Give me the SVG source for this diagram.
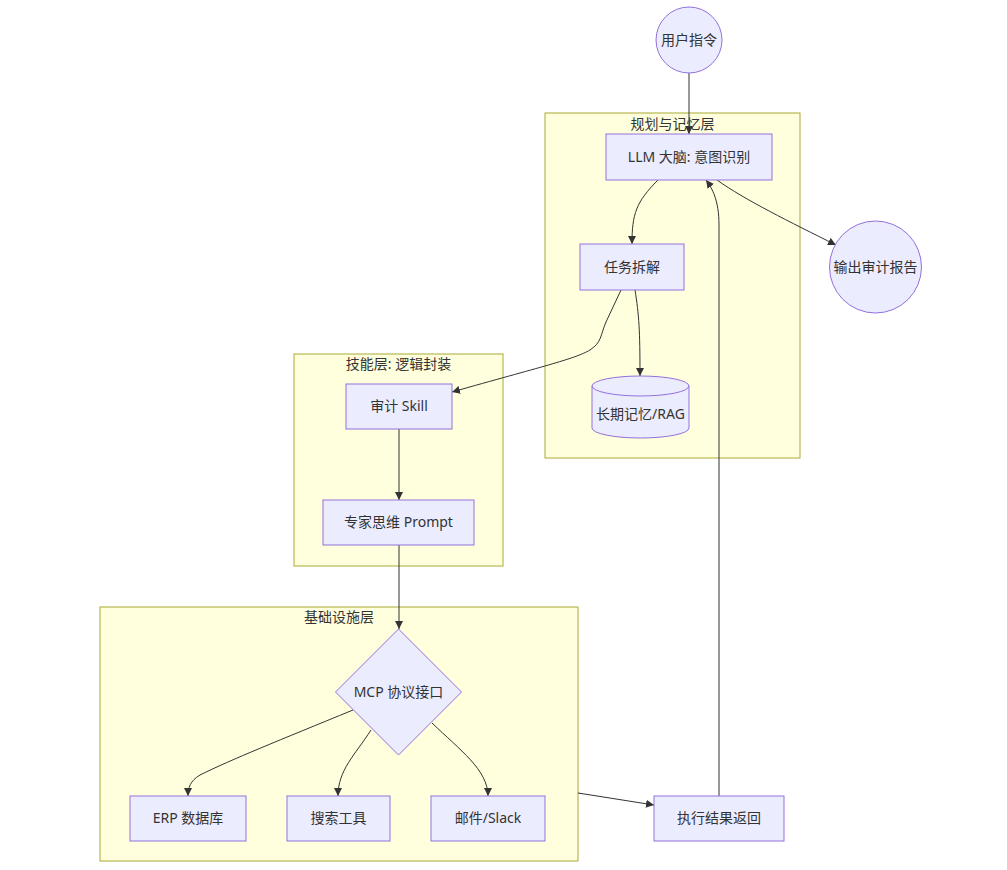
<svg xmlns="http://www.w3.org/2000/svg" width="1007" height="870" viewBox="0 0 1007 870">
<style>
text{font-family:"Noto Sans","Noto Sans CJK SC",sans-serif;font-size:14px;fill:#333;text-anchor:middle;}
.cl{fill:#ffffde;stroke:#aaaa33;stroke-width:1;}
.nd{fill:#ECECFF;stroke:#9370DB;stroke-width:1;}
.ed{fill:none;stroke:#333;stroke-width:1;marker-end:url(#ah);}
</style>
<defs>
<marker id="ah" viewBox="0 0 10 10" refX="10" refY="5" markerWidth="8" markerHeight="8" markerUnits="userSpaceOnUse" orient="auto"><path d="M0,0 L10,5 L0,10 z" fill="#333"/></marker>
</defs>
<rect width="1007" height="870" fill="#fff"/>
<g id="cluster-plan"><rect class="cl" x="545" y="113" width="255" height="345"/><text x="672.5" y="129">规划与记忆层</text></g>
<g id="cluster-skill"><rect class="cl" x="294" y="354" width="209" height="212"/><text x="398.5" y="369">技能层: 逻辑封装</text></g>
<g id="cluster-infra"><rect class="cl" x="100" y="607" width="478" height="254"/><text x="339" y="622">基础设施层</text></g>
<g id="connectors">
<path class="ed" d="M689,73 L689,134"/>
<path class="ed" d="M658,180 C636,202 632,214 632,244"/>
<path class="ed" d="M719,796 L719,225 C719,200 712,188 706,180"/>
<path class="ed" d="M717,180 C745,200 790,222 836,245"/>
<path class="ed" d="M621,290 L606,322 C600,336 602,342 590,350 C575,359 540,367 452,392"/>
<path class="ed" d="M635,290 C639,315 640,330 640,376"/>
<path class="ed" d="M399,429 L399,500"/>
<path class="ed" d="M399,545 L399,629"/>
<path class="ed" d="M353,710 C280,740 230,760 200,775 C190,781 188,788 188,796"/>
<path class="ed" d="M371,730 C355,755 338,770 338,796"/>
<path class="ed" d="M432,723 C460,750 488,770 488,796"/>
<path class="ed" d="M578,793 L654,805"/>
</g>
<g id="user"><circle class="nd" cx="689" cy="40" r="33"/><text x="689" y="45">用户指令</text></g>
<g id="llm"><rect class="nd" x="606" y="134" width="166" height="46"/><text x="689" y="162">LLM 大脑: 意图识别</text></g>
<g id="task"><rect class="nd" x="580" y="244" width="104" height="46"/><text x="632" y="272">任务拆解</text></g>
<g id="output"><circle class="nd" cx="875.5" cy="267" r="46"/><text x="875.5" y="272">输出审计报告</text></g>
<g id="memory"><path class="nd" d="M592,386 a48.5,10 0 0,0 97,0 a48.5,10 0 0,0 -97,0 l0,42 a48.5,10 0 0,0 97,0 l0,-42"/><text x="640.5" y="419">长期记忆/RAG</text></g>
<g id="skill"><rect class="nd" x="346" y="384" width="106" height="45"/><text x="399" y="411">审计 Skill</text></g>
<g id="prompt"><rect class="nd" x="323" y="500" width="151" height="45"/><text x="398.5" y="527">专家思维 Prompt</text></g>
<g id="mcp"><polygon class="nd" points="398.5,629 461.5,692 398.5,755 335.5,692"/><text x="398.5" y="697">MCP 协议接口</text></g>
<g id="erp"><rect class="nd" x="130" y="796" width="116" height="45"/><text x="188" y="823">ERP 数据库</text></g>
<g id="search"><rect class="nd" x="287" y="796" width="103" height="45"/><text x="338.5" y="823">搜索工具</text></g>
<g id="mail"><rect class="nd" x="431" y="796" width="114" height="45"/><text x="488" y="823">邮件/Slack</text></g>
<g id="result"><rect class="nd" x="654" y="796" width="130" height="45"/><text x="719" y="823">执行结果返回</text></g>
</svg>
